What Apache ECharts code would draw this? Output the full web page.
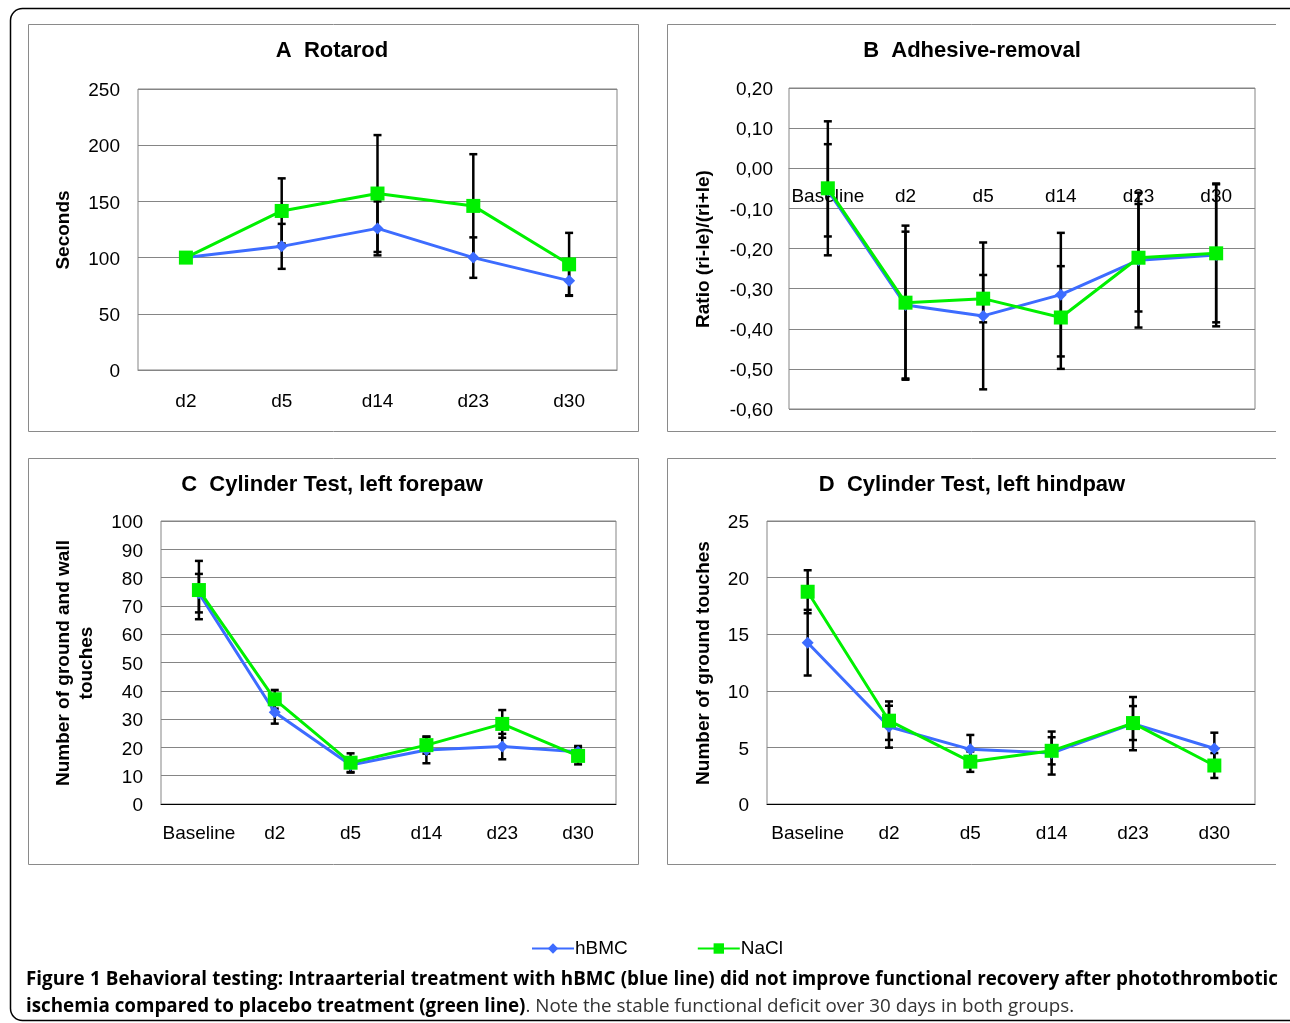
<!DOCTYPE html>
<html>
<head>
<meta charset="utf-8">
<script src="https://cdn.jsdelivr.net/npm/echarts@6/dist/echarts.min.js"></script>
<style>
html,body{margin:0;padding:0;background:#fff;}
#chart{position:absolute;left:0;top:0;width:1290px;height:1023px;}
.cap{position:absolute;left:26px;white-space:nowrap;font-family:"Open Sans",sans-serif;font-size:18px;color:#000;}
.cap b{font-weight:bold;}
.cap span.reg{color:#333;font-weight:normal;}
</style>
</head>
<body>
<div id="chart"></div>
<div class="cap" id="cap1"><b>Figure 1 Behavioral testing: Intraarterial treatment with hBMC (blue line) did not improve functional recovery after photothrombotic</b></div>
<div class="cap" id="cap2"><b>ischemia compared to placebo treatment (green line)</b><span class="reg">. Note the stable functional deficit over 30 days in both groups.</span></div>
<script>
// ---------- data ----------
const catsA = ['d2', 'd5', 'd14', 'd23', 'd30'];
const catsBCD = ['Baseline', 'd2', 'd5', 'd14', 'd23', 'd30'];

const rotarodHBMC = [100, 110, 126, 100, 79.5];
const rotarodHBMCErr = [null, 20, 24, 18, 13];
const rotarodNaCl = [100, 141.5, 157, 146, 94];
const rotarodNaClErr = [null, 29, 52, 46, 28];

const adhesiveHBMC = [-0.055, -0.341, -0.368, -0.315, -0.229, -0.216];
const adhesiveHBMCErr = [0.115, 0.183, 0.183, 0.154, 0.168, 0.178];
const adhesiveNaCl = [-0.05, -0.335, -0.325, -0.372, -0.223, -0.212];
const adhesiveNaClErr = [0.167, 0.192, 0.059, 0.128, 0.134, 0.172];

const forepawHBMC = [74.5, 32.4, 13.8, 19.1, 20.3, 18.5];
const forepawHBMCErr = [6.8, 4, 2.7, 4.7, 4.5, 2];
const forepawNaCl = [75.6, 37, 14.6, 20.8, 28.3, 17];
const forepawNaClErr = [10.3, 3.3, 3.3, 3, 4.9, 3];

const hindpawHBMC = [14.25, 6.83, 4.83, 4.5, 7.1, 4.9];
const hindpawHBMCErr = [2.9, 1.85, 1.27, 1.9, 2.35, 1.4];
const hindpawNaCl = [18.75, 7.36, 3.74, 4.7, 7.15, 3.4];
const hindpawNaClErr = [1.9, 1.7, 0.9, 1.2, 1.5, 1.1];

const yScaleA = [0, 250, 50];
const yScaleB = [-0.6, 0.2, 0.1];
const yScaleC = [0, 100, 10];
const yScaleD = [0, 25, 5];

const panelTitles = ['A  Rotarod', 'B  Adhesive-removal', 'C  Cylinder Test, left forepaw', 'D  Cylinder Test, left hindpaw'];
const yTitles = ['Seconds', 'Ratio (ri-le)/(ri+le)', 'Number of ground and wall\ntouches', 'Number of ground touches'];
const seriesNames = ['hBMC', 'NaCl'];

// ---------- styles ----------
const FONT = '"Liberation Sans", Arial, sans-serif';
const BLUE = '#3d6cff';
const GREEN = '#00f000';
const GRIDC = '#858585';

const grids = [
  {left: 138, top: 89, width: 479, height: 281},
  {left: 789, top: 88, width: 466, height: 321},
  {left: 161, top: 521, width: 455, height: 283},
  {left: 767, top: 521, width: 488, height: 283}
];
const panels = [
  {cats: catsA, h: rotarodHBMC, he: rotarodHBMCErr, n: rotarodNaCl, ne: rotarodNaClErr, y: yScaleA, xm: 22, off: 0, fmt: v => String(v)},
  {cats: catsBCD, h: adhesiveHBMC, he: adhesiveHBMCErr, n: adhesiveNaCl, ne: adhesiveNaClErr, y: yScaleB, xm: 19, off: -241,
    fmt: v => (Math.abs(v) < 1e-9 ? 0 : v).toFixed(2).replace('.', ',')},
  {cats: catsBCD, h: forepawHBMC, he: forepawHBMCErr, n: forepawNaCl, ne: forepawNaClErr, y: yScaleC, xm: 20, off: 0, fmt: v => String(v)},
  {cats: catsBCD, h: hindpawHBMC, he: hindpawHBMCErr, n: hindpawNaCl, ne: hindpawNaClErr, y: yScaleD, xm: 20, off: 0, fmt: v => String(v)}
];

function errData(vals, errs) {
  return vals.map((v, i) => errs[i] == null ? [i, v, v, 0] : [i, v - errs[i], v + errs[i], 1]);
}
function renderErr(params, api) {
  if (!api.value(3)) return null;
  const x = api.value(0);
  const lo = api.coord([x, api.value(1)]);
  const hi = api.coord([x, api.value(2)]);
  const cw = 4;
  const st = {stroke: '#000', lineWidth: 2.5};
  return {
    type: 'group',
    children: [
      {type: 'line', shape: {x1: lo[0], y1: lo[1], x2: hi[0], y2: hi[1]}, style: st},
      {type: 'line', shape: {x1: lo[0] - cw, y1: lo[1], x2: lo[0] + cw, y2: lo[1]}, style: st},
      {type: 'line', shape: {x1: hi[0] - cw, y1: hi[1], x2: hi[0] + cw, y2: hi[1]}, style: st}
    ]
  };
}

const xAxes = [], yAxes = [], series = [];
panels.forEach((p, i) => {
  xAxes.push({
    type: 'category', gridIndex: i, data: p.cats, boundaryGap: true, position: 'bottom', offset: p.off,
    axisLine: {show: true, onZero: false, lineStyle: {color: i >= 2 ? '#000' : GRIDC, width: 1}},
    axisTick: {show: false},
    axisLabel: {fontFamily: FONT, fontSize: 19, color: '#000', margin: p.xm, interval: 0},
    splitLine: {show: false}
  });
  yAxes.push({
    type: 'value', gridIndex: i, min: p.y[0], max: p.y[1], interval: p.y[2],
    axisLine: {show: false}, axisTick: {show: false},
    axisLabel: {fontFamily: FONT, fontSize: 19, color: '#000', margin: i === 1 ? 16 : 18,
      formatter: v => '{t|' + p.fmt(v) + '}',
      rich: {t: {fontFamily: FONT, fontSize: 19, color: '#000', padding: [4, 0, 0, 0]}}},
    splitLine: {show: true, lineStyle: {color: GRIDC, width: 1}}
  });
  series.push({
    type: 'custom', name: 'errH' + i, xAxisIndex: i, yAxisIndex: i, z: 3,
    renderItem: renderErr, data: errData(p.h, p.he), encode: {x: 0, y: [1, 2]}, silent: true
  });
  series.push({
    type: 'custom', name: 'errN' + i, xAxisIndex: i, yAxisIndex: i, z: 3,
    renderItem: renderErr, data: errData(p.n, p.ne), encode: {x: 0, y: [1, 2]}, silent: true
  });
  series.push({
    type: 'line', name: seriesNames[0], xAxisIndex: i, yAxisIndex: i, data: p.h, z: 4,
    symbol: 'diamond', symbolSize: 12, showAllSymbol: true,
    lineStyle: {color: BLUE, width: 3}, itemStyle: {color: BLUE}, animation: false
  });
  series.push({
    type: 'line', name: seriesNames[1], xAxisIndex: i, yAxisIndex: i, data: p.n, z: 5,
    symbol: 'rect', symbolSize: 14, showAllSymbol: true,
    lineStyle: {color: GREEN, width: 3}, itemStyle: {color: GREEN}, animation: false
  });
});

const titlePos = [[332, 51], [972, 51], [332, 485], [972, 485]];
const yTitlePos = [[64, 230], [704, 249], [75, 663], [704, 663]];
const graphic = [
  {type: 'rect', shape: {x: 10.5, y: 8.5, width: 1290, height: 1012, r: 12}, style: {fill: null, stroke: '#000', lineWidth: 1.5}, z: 0},
  {type: 'rect', shape: {x: 28.5, y: 24.5, width: 610, height: 407}, style: {fill: null, stroke: '#8a8a8a', lineWidth: 1}, z: 0},
  {type: 'polyline', shape: {points: [[1276, 24.5], [667.5, 24.5], [667.5, 431.5], [1276, 431.5]]}, style: {fill: null, stroke: '#8a8a8a', lineWidth: 1}, z: 0},
  {type: 'rect', shape: {x: 28.5, y: 458.5, width: 610, height: 406}, style: {fill: null, stroke: '#8a8a8a', lineWidth: 1}, z: 0},
  {type: 'polyline', shape: {points: [[1276, 458.5], [667.5, 458.5], [667.5, 864.5], [1276, 864.5]]}, style: {fill: null, stroke: '#8a8a8a', lineWidth: 1}, z: 0}
];
panelTitles.forEach((t, i) => {
  graphic.push({type: 'text', x: titlePos[i][0], y: titlePos[i][1], z: 10,
    style: {text: t, fontFamily: FONT, fontSize: 22, fontWeight: 'bold', fill: '#000', textAlign: 'center', textVerticalAlign: 'middle'}});
});
yTitles.forEach((t, i) => {
  graphic.push({type: 'text', x: yTitlePos[i][0], y: yTitlePos[i][1], rotation: Math.PI / 2, z: 10,
    style: {text: t, fontFamily: FONT, fontSize: 19, fontWeight: 'bold', fill: '#000', textAlign: 'center', textVerticalAlign: 'middle', lineHeight: 23}});
});

const chart = echarts.init(document.getElementById('chart'), null, {renderer: 'canvas'});
chart.setOption({
  animation: false,
  backgroundColor: '#fff',
  grid: grids.map(g => Object.assign({show: true, borderColor: GRIDC, borderWidth: 1, backgroundColor: 'transparent', containLabel: false}, g)),
  xAxis: xAxes,
  yAxis: yAxes,
  series: series,
  legend: {
    data: seriesNames, left: 526, top: 934, itemWidth: 42, itemHeight: 13, itemGap: 69,
    textStyle: {fontFamily: FONT, fontSize: 19, color: '#000', padding: [0, 0, 0, -4]}, selectedMode: false
  },
  graphic: graphic
});

// ---------- caption fitting ----------
(function () {
  const c1 = document.getElementById('cap1');
  const c2 = document.getElementById('cap2');
  const target2 = 1049, target1 = 1252;
  let w2 = c2.getBoundingClientRect().width;
  const fs = 18 * target2 / w2;
  c1.style.fontSize = fs + 'px';
  c2.style.fontSize = fs + 'px';
  const w1 = c1.getBoundingClientRect().width;
  const spaces = (c1.textContent.match(/ /g) || []).length;
  c1.style.wordSpacing = ((target1 - w1) / spaces) + 'px';
  const h = c1.getBoundingClientRect().height;
  c1.style.top = (978 - h / 2) + 'px';
  c2.style.top = (1005 - h / 2) + 'px';
})();
</script>
</body>
</html>
